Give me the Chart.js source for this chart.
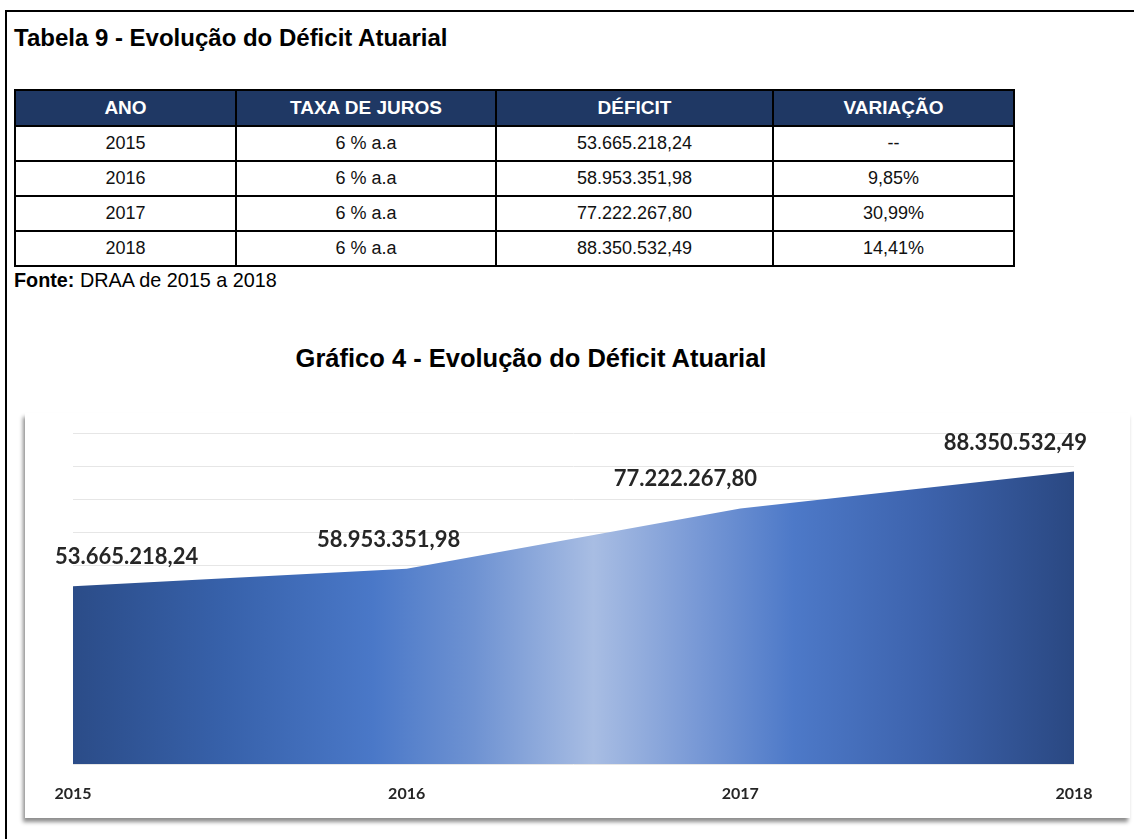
<!DOCTYPE html>
<html lang="pt-BR">
<head>
<meta charset="utf-8">
<title>Evolução do Déficit Atuarial</title>
<script src="https://cdn.jsdelivr.net/npm/chart.js@4.4.1/dist/chart.umd.min.js"></script>
<style>
  body { margin: 0; background: #fff; font-family: "Liberation Sans", Arial, sans-serif; width: 1134px; height: 839px; overflow: hidden; position: relative; }
  .frame { position: absolute; left: 5px; top: 10px; width: 1140px; height: 840px; border-top: 2px solid #000; border-left: 2px solid #000; }
  .title { position: absolute; left: 14px; top: 26px; font-size: 24px; line-height: 24px; font-weight: bold; color: #000; white-space: nowrap; }
  table { position: absolute; left: 14px; top: 89px; border-collapse: collapse; font-size: 18px; }
  th, td { border: 2px solid #000; text-align: center; padding: 0; }
  th { background: #1f3864; color: #fff; height: 34px; font-weight: bold; font-size: 19px; }
  td { height: 33px; color: #111; }
  .fonte { position: absolute; left: 14px; top: 270px; font-size: 19.8px; line-height: 20px; white-space: nowrap; }
  .ctitle { position: absolute; left: 0; width: 1062px; top: 346px; text-align: center; font-size: 25.5px; line-height: 25.5px; font-weight: bold; white-space: nowrap; }
  .card { position: absolute; left: 25px; top: 413px; width: 1105px; height: 405px; background: #fff; box-shadow: -2px 4px 4px rgba(0,0,0,0.45); }
</style>
</head>
<body>
<div class="frame"></div>
<div class="title">Tabela 9 - Evolução do Déficit Atuarial</div>
<table id="tabela">
  <thead>
    <tr><th style="width:219px">ANO</th><th style="width:258px">TAXA DE JUROS</th><th style="width:275px">DÉFICIT</th><th style="width:239px">VARIAÇÃO</th></tr>
  </thead>
  <tbody></tbody>
</table>
<div class="fonte"><b>Fonte:</b> DRAA de 2015 a 2018</div>
<div class="ctitle">Gráfico 4 - Evolução do Déficit Atuarial</div>
<div class="card"><canvas id="grafico" width="1105" height="405"></canvas></div>

<script>
// dados (DRAA 2015-2018)
const anos = ['2015', '2016', '2017', '2018'];
const taxas = ['6 % a.a', '6 % a.a', '6 % a.a', '6 % a.a'];
const deficit = [53665218.24, 58953351.98, 77222267.80, 88350532.49];
const variacao = ['--', '9,85%', '30,99%', '14,41%'];

// formata no padrão brasileiro: 53.665.218,24
function formatBR(v) {
    const parts = v.toFixed(2).split('.');
    return parts[0].replace(/\B(?=(\d{3})+(?!\d))/g, '.') + ',' + parts[1];
}

// preenche a tabela
const tbody = document.querySelector('#tabela tbody');
anos.forEach((ano, i) => {
    const tr = document.createElement('tr');
    [ano, taxas[i], formatBR(deficit[i]), variacao[i]].forEach(txt => {
        const td = document.createElement('td');
        td.textContent = txt;
        tr.appendChild(td);
    });
    tbody.appendChild(tr);
});

// gradiente horizontal do preenchimento da área
function areaGradient(context) {
    const area = context.chart.chartArea;
    if (!area) return '#4472c4';
    const g = context.chart.ctx.createLinearGradient(area.left, 0, area.right, 0);
    g.addColorStop(0, '#2b4c88');
    g.addColorStop(0.15, '#3761aa');
    g.addColorStop(0.3, '#4a78c8');
    g.addColorStop(0.4, '#6e92d2');
    g.addColorStop(0.52, '#a8bde3');
    g.addColorStop(0.62, '#7a9ad6');
    g.addColorStop(0.72, '#4d79c8');
    g.addColorStop(0.85, '#3d63ad');
    g.addColorStop(1, '#2a4882');
    return g;
}

// rótulos de valor acima de cada ponto
const labelShift = [-18, -18, -55, 13];
const labelAlign = ['left', 'center', 'center', 'right'];
const valueLabels = {
    id: 'valueLabels',
    afterDatasetsDraw(chart) {
        const ctx = chart.ctx;
        const meta = chart.getDatasetMeta(0);
        ctx.save();
        ctx.font = 'bold 22px Lato, sans-serif';
        ctx.fillStyle = '#262626';
        ctx.textBaseline = 'middle';
        meta.data.forEach((pt, i) => {
            ctx.textAlign = labelAlign[i];
            ctx.fillText(formatBR(deficit[i]), pt.x + labelShift[i], pt.y - 29);
        });
        ctx.restore();
    }
};

const ctx = document.getElementById('grafico').getContext('2d');
const grafico = new Chart(ctx, {
    type: 'line',
    data: {
        labels: anos,
        datasets: [{
            data: deficit,
            fill: 'origin',
            backgroundColor: areaGradient,
            borderWidth: 0,
            pointRadius: 0,
            tension: 0
        }]
    },
    options: {
        responsive: false,
        animation: false,
        layout: { padding: { left: 48, right: 56, top: 20, bottom: 14 } },
        plugins: {
            legend: { display: false },
            tooltip: { enabled: false }
        },
        scales: {
            x: {
                grid: { display: false, drawTicks: false },
                border: { display: false },
                ticks: { color: '#262626', font: { family: 'Lato', size: 16, weight: 'bold' }, padding: 20, maxRotation: 0 },
                afterFit(scale) { scale.height = 40; }
            },
            y: {
                min: 0,
                max: 100000000,
                ticks: { display: false, stepSize: 10000000 },
                grid: { color: '#e6e6e6', drawTicks: false },
                border: { display: false }
            }
        }
    },
    plugins: [valueLabels]
});
</script>
</body>
</html>
